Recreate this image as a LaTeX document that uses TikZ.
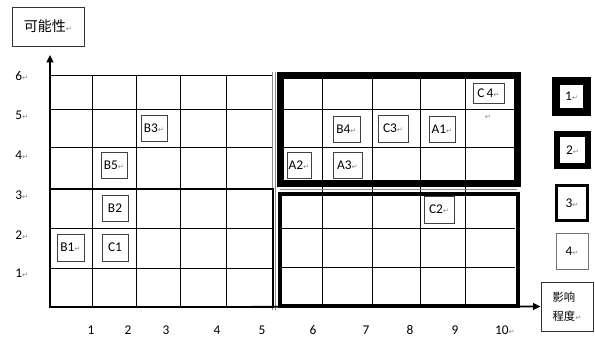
\documentclass[tikz,border=0pt]{standalone}
\usepackage{fontspec}
\setmainfont{Carlito}
\newfontfamily\cjk{Noto Sans CJK SC}
\newfontfamily\djv{DejaVu Sans}
\usetikzlibrary{arrows.meta}
\newcommand{\rmark}{{\djv\fontsize{5.5}{6}\selectfont\textcolor{black!45}{↵}}}
\begin{document}
\begin{tikzpicture}[x=0.75pt,y=-0.75pt,
  gridline/.style={line width=0.7pt,black},
  thinline/.style={line width=0.5pt,black!45},
  lbl/.style={font=\fontsize{10}{11}\selectfont,inner sep=0pt},
  cell/.style={draw=black!75,line width=0.6pt,inner sep=0pt,outer sep=0pt,
    font=\fontsize{10}{11}\selectfont,minimum width=19.5pt,minimum height=19.5pt},
  legbox/.style={draw=black,inner sep=0pt,font=\fontsize{10}{11}\selectfont},
  axis/.style={line width=1.2pt,-{Triangle[length=5.5pt,width=5pt]}},
  zone1/.style={line width=5.25pt},
  zone2/.style={line width=3.6pt},
  zone3/.style={line width=2pt}]
\useasboundingbox (0,0) rectangle (595,339);
\fill[white] (0,0) rectangle (595,339);

% left grid
\foreach \x in {92,136,180,226} \draw[gridline] (\x,75) -- (\x,307);
\foreach \y in {75,109,147,188,228,268} \draw[gridline] (50,\y) -- (273,\y);
\draw[thinline] (272.5,72) -- (272.5,310);
\draw[thinline] (275,72) -- (275,310);
% right grid
\foreach \x in {322,372,420,465} \draw[gridline] (\x,75) -- (\x,306);
\foreach \y in {109,147} \draw[gridline] (280,\y) -- (517,\y);
\foreach \y in {228,267} \draw[gridline] (280,\y) -- (515,\y);
\draw[thinline] (280,189) -- (517,189);

% zones
\draw[zone3] (50,189) rectangle (273,307);
\draw[zone1] (280,75) rectangle (517,183);
\draw[zone2] (280,194) rectangle (518,306);

% axes
\coordinate (O) at (50,307);
\coordinate (ytop) at (50,55);
\node[draw=black!80,line width=0.7pt,inner sep=0pt,minimum width=54pt,minimum height=29.25pt,
  font=\cjk\fontsize{10.5}{12}\selectfont] (ylab) at (48,26.5) {可能性\rmark};
\node[draw=black!80,line width=0.7pt,inner sep=0pt,minimum width=39pt,minimum height=36.75pt,
  align=left,font=\cjk\fontsize{8.5}{14}\selectfont] (xlab) at (567,306.5) {影响\\程度\rmark};
\draw[axis] (O) -- (ytop);
\draw[axis] (O) -- (xlab.west);

% y labels
\node[lbl,anchor=west] (y6) at (15,76) {6\rmark};
\node[lbl,anchor=west] (y5) at (15,115.5) {5\rmark};
\node[lbl,anchor=west] (y4) at (15,155) {4\rmark};
\node[lbl,anchor=west] (y3) at (15,195.5) {3\rmark};
\node[lbl,anchor=west] (y2) at (15,235) {2\rmark};
\node[lbl,anchor=west] (y1) at (15,273) {1\rmark};

% x labels
\node[lbl] (x1) at (91,330) {1};
\node[lbl] (x2) at (128,330) {2};
\node[lbl] (x3) at (166,330) {3};
\node[lbl] (x4) at (217,330) {4};
\node[lbl] (x5) at (262,330) {5};
\node[lbl] (x6) at (313,330) {6};
\node[lbl] (x7) at (366,330) {7};
\node[lbl] (x8) at (410,330) {8};
\node[lbl] (x9) at (455,330) {9};
\node[lbl] (x10) at (505,330) {10\rmark};

% cells
\node[cell] (B3) at (154,128.5) {B3\rmark};
\node[cell] (B5) at (114,165) {B5\rmark};
\node[cell] (B2) at (115,208) {B2};
\node[cell,minimum width=20.25pt,minimum height=20.25pt] (B1) at (70.5,247.5) {B1\rmark};
\node[cell,minimum height=20.25pt] (C1) at (115,247.5) {C1};
\node[cell,minimum width=23.25pt,minimum height=15pt] (C4) at (488.5,93) {C\,4\rmark};
\node[cell,minimum width=20.25pt] (B4) at (346.5,129) {B4\rmark};
\node[cell,minimum width=22.5pt,minimum height=20.25pt] (C3) at (393,128.5) {C3\rmark};
\node[cell] (A1) at (442,129) {A1\rmark};
\node[cell,minimum width=18pt] (A2) at (299,165) {A2\rmark};
\node[cell,minimum width=21.75pt] (A3) at (347.5,165) {A3\rmark};
\node[cell,minimum width=22.5pt,minimum height=20.25pt] (C2) at (439,209.5) {C2\rmark};
\node[inner sep=0pt] (stray) at (488,117) {\rmark};

% legend
\node[legbox,line width=6pt,minimum width=23.25pt,minimum height=23.25pt] (L1) at (571.5,96.5) {1\rmark};
\node[legbox,line width=4.5pt,minimum width=23.25pt,minimum height=24pt] (L2) at (572.5,150) {2\rmark};
\node[legbox,line width=2.25pt,minimum width=23.25pt,minimum height=26.25pt] (L3) at (572,203) {3\rmark};
\node[legbox,draw=black!55,line width=0.75pt,minimum width=24pt,minimum height=27pt] (L4) at (572,251) {4\rmark};
\end{tikzpicture}
\end{document}
